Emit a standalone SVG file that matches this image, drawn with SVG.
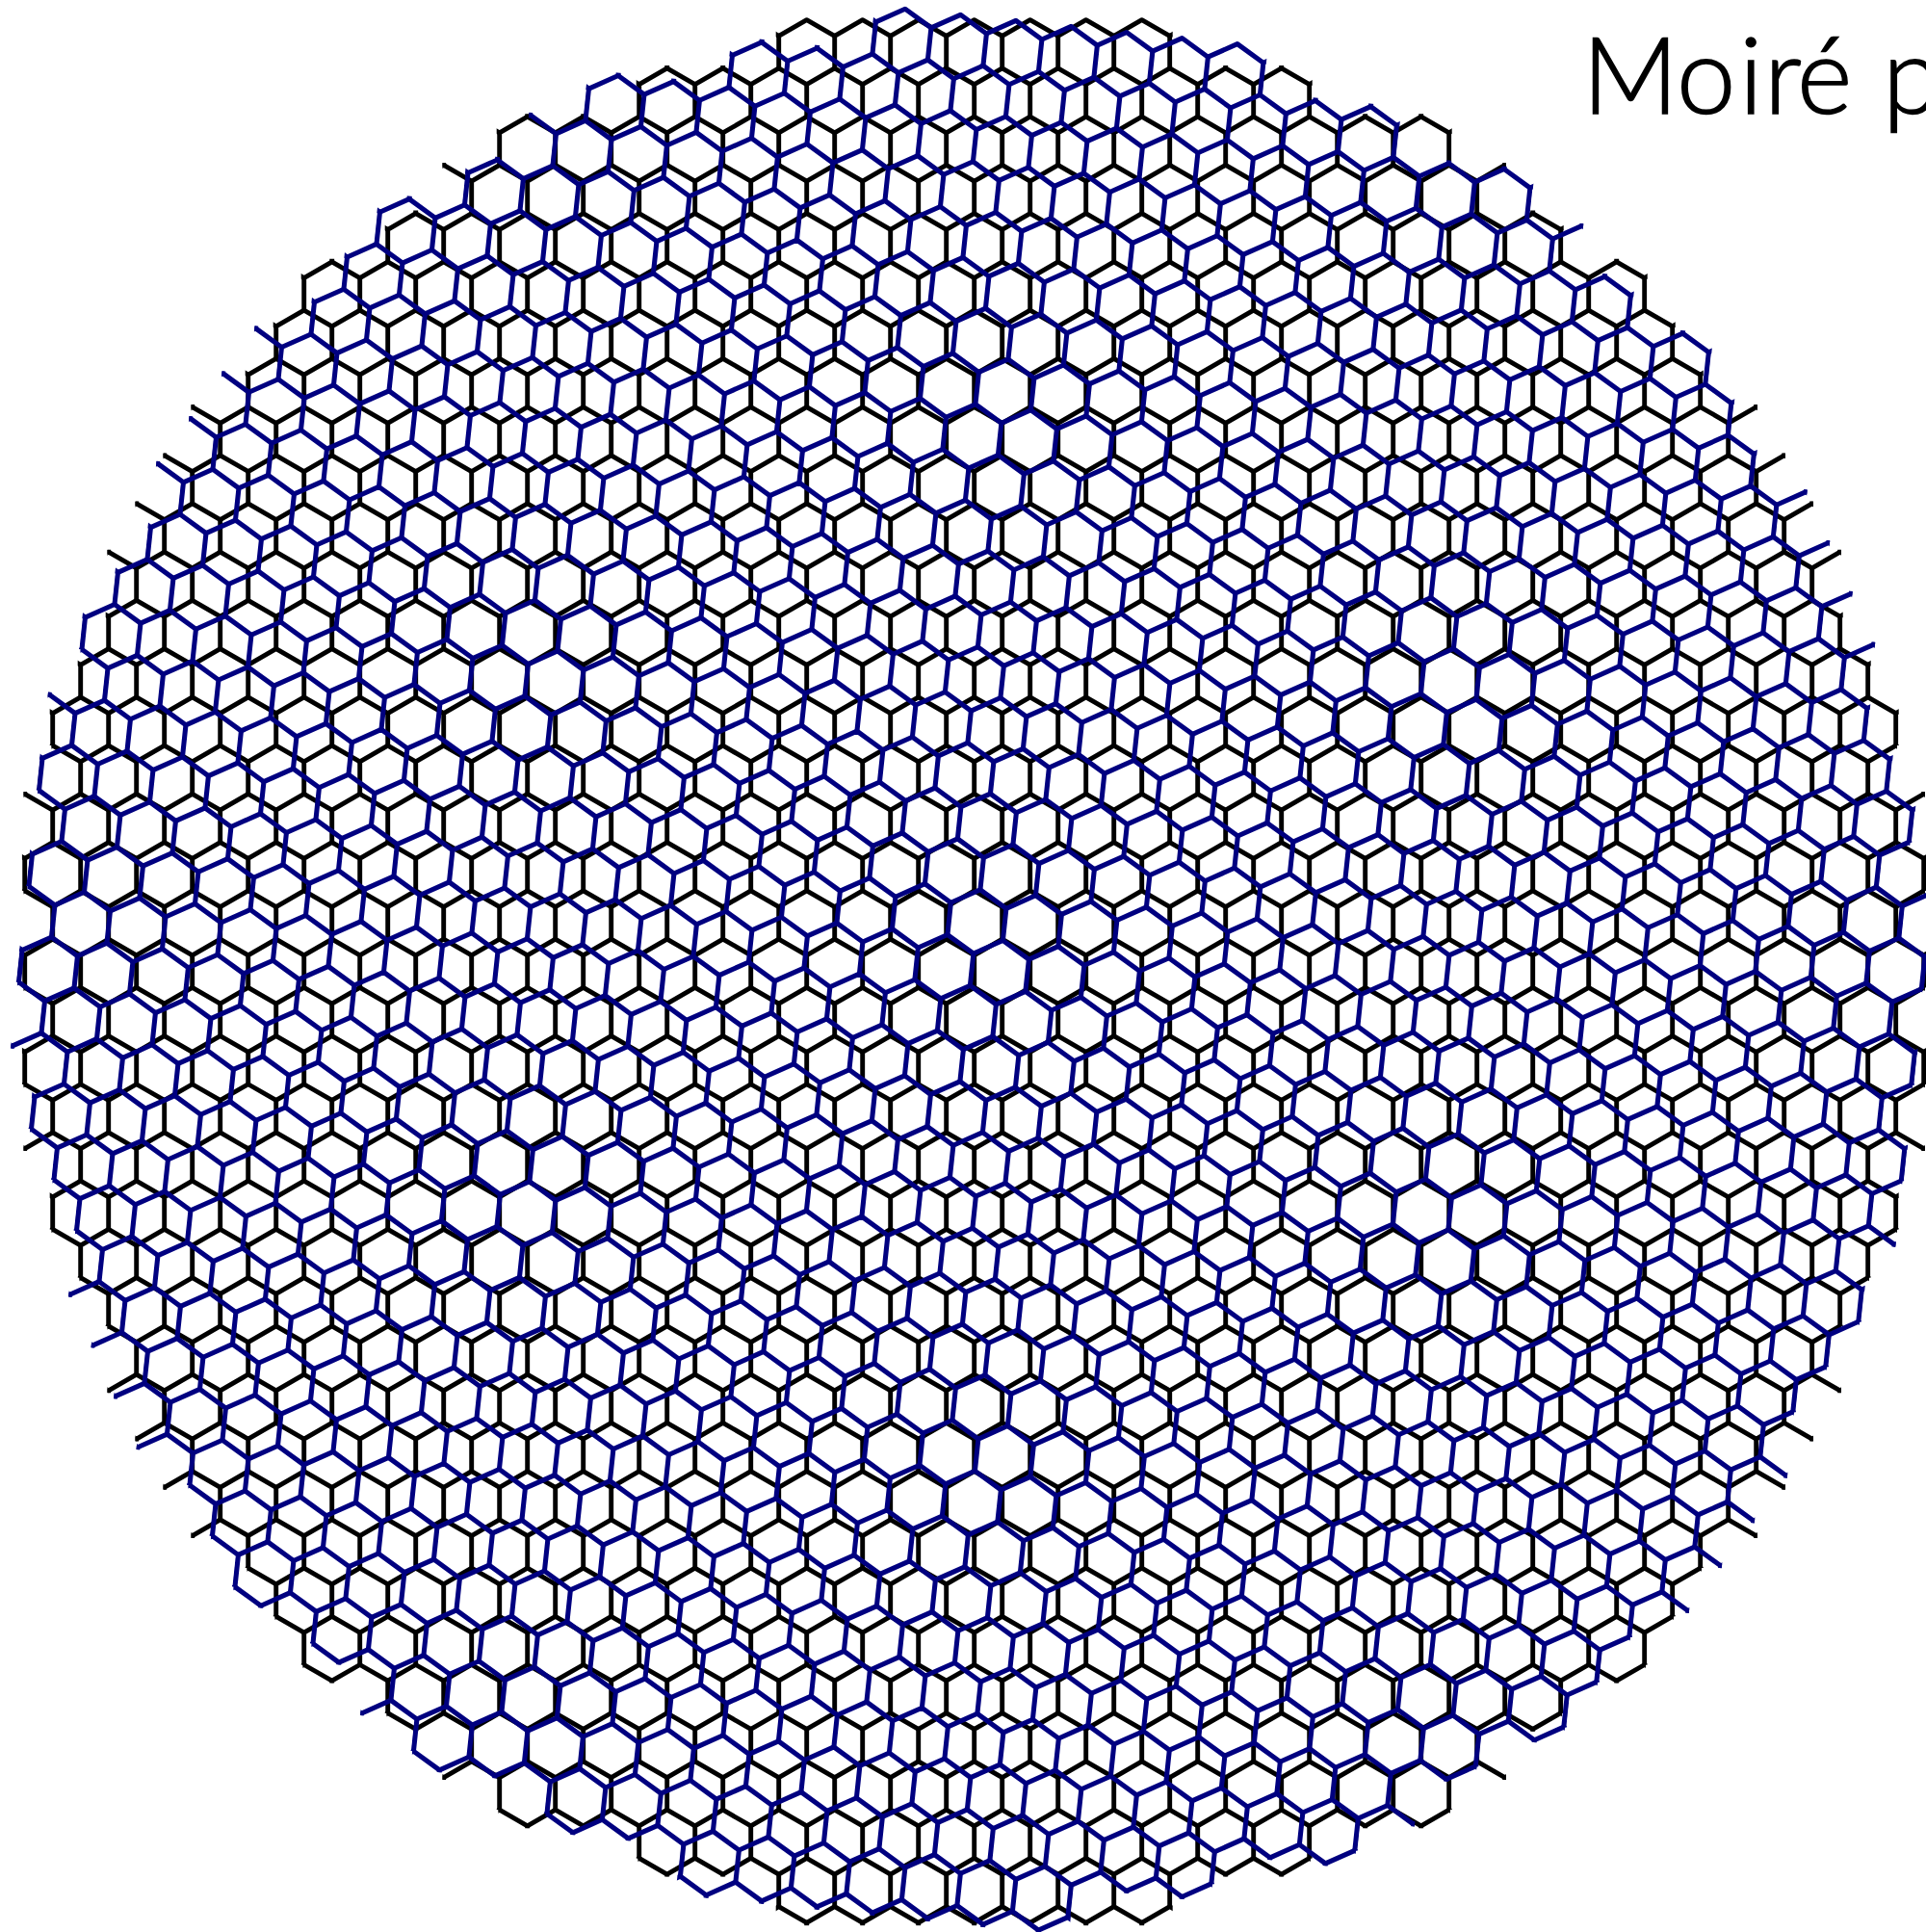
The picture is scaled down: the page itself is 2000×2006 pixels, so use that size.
<svg xmlns="http://www.w3.org/2000/svg" width="2000" height="2006" viewBox="0 0 2000 2006">
<style>
.lat{fill:none;stroke-linecap:round;stroke-linejoin:round}
.title{font-family:"Lato","Liberation Sans",sans-serif;font-size:110px;font-weight:300;fill:#000;stroke:#000;stroke-width:1.5px}
</style>
<defs>
<path id="c1" d="M0 16.743L29 0L58 16.743M0 16.743V50.229"/>
<g id="c2"><use href="#c1"/><use href="#c1" x="58"/></g>
<g id="c4"><use href="#c2"/><use href="#c2" x="116"/></g>
<g id="c8"><use href="#c4"/><use href="#c4" x="232"/></g>
<g id="c16"><use href="#c8"/><use href="#c8" x="464"/></g>
<g id="r"><use href="#c16"/><use href="#c16" x="928"/><use href="#c8" x="1856"/></g>
<g id="p1"><use href="#r"/><use href="#r" x="29" y="50.2295"/></g>
<g id="p2"><use href="#p1"/><use href="#p1" y="100.459"/></g>
<g id="p4"><use href="#p2"/><use href="#p2" y="200.918"/></g>
<g id="p8"><use href="#p4"/><use href="#p4" y="401.836"/></g>
<g id="p16"><use href="#p8"/><use href="#p8" y="803.672"/></g>
<clipPath id="disc"><path d="M-206-3h412v53.2h-412zM-351 47.2h702v53.2h-702zM-496 97.5h992v53.2h-992zM-552.2 148.3h1104.4v21.5h-1104.4zM-525 167.4h1050v33.5h-1050zM-612 197.9h1224v53.2h-1224zM-699 248.1h1398v53.2h-1398zM-728 298.4h1456v53.2h-1456zM-757 348.6h1514v53.2h-1514zM-813.2 399.4h1626.4v21.5h-1626.4zM-786 418.5h1572v33.5h-1572zM-842.2 449.7h1684.4v21.5h-1684.4zM-815 468.8h1630v33.5h-1630zM-871.2 499.9h1742.4v21.5h-1742.4zM-844 519h1688v33.5h-1688zM-900.2 550.1h1800.4v21.5h-1800.4zM-873 569.2h1746v33.5h-1746zM-902 599.7h1804v53.2h-1804zM-931 650h1862v53.2h-1862zM-960 700.2h1920v53.2h-1920zM-958.2 751h1916.4v21.5h-1916.4zM-931 770.1h1862v33.5h-1862zM-987.2 801.3h1974.4v21.5h-1974.4zM-960 820.4h1920v33.5h-1920zM-989 850.9h1978v53.2h-1978zM-987.2 901.7h1974.4v21.5h-1974.4zM-960 920.8h1920v33.5h-1920zM-989 951.4h1978v53.2h-1978zM-987.2 1002.2h1974.4v21.5h-1974.4zM-960 1021.3h1920v33.5h-1920zM-989 1051.8h1978v53.2h-1978zM-987.2 1102.6h1974.4v21.5h-1974.4zM-960 1121.7h1920v33.5h-1920zM-987.2 1152.9h1974.4v21.5h-1974.4zM-931 1172h1862v33.5h-1862zM-960 1202.5h1920v53.2h-1920zM-958.2 1253.3h1916.4v21.5h-1916.4zM-931 1272.4h1862v33.5h-1862zM-929.2 1303.6h1858.4v21.5h-1858.4zM-902 1322.7h1804v33.5h-1804zM-900.2 1353.8h1800.4v21.5h-1800.4zM-873 1372.9h1746v33.5h-1746zM-900.2 1404h1800.4v21.5h-1800.4zM-844 1423.1h1688v33.5h-1688zM-871.2 1454.2h1742.4v21.5h-1742.4zM-815 1473.3h1630v33.5h-1630zM-842.2 1504.5h1684.4v21.5h-1684.4zM-786 1523.6h1572v33.5h-1572zM-813.2 1554.7h1626.4v21.5h-1626.4zM-757 1573.8h1514v33.5h-1514zM-755.2 1604.9h1510.4v21.5h-1510.4zM-728 1624h1456v33.5h-1456zM-726.2 1655.2h1452.4v21.5h-1452.4zM-699 1674.3h1398v33.5h-1398zM-697.2 1705.4h1394.4v21.5h-1394.4zM-612 1724.5h1224v33.5h-1224zM-610.2 1755.6h1220.4v21.5h-1220.4zM-525 1774.7h1050v33.5h-1050zM-552.2 1805.8h1104.4v21.5h-1104.4zM-496 1824.9h992v33.5h-992zM-494.2 1856.1h988.4v21.5h-988.4zM-351 1875.2h702v33.5h-702zM-349.2 1906.3h698.4v21.5h-698.4zM-206 1925.4h412v33.5h-412zM-206 1955.9h412v22.7h-412z"/></clipPath>
<g id="flake" clip-path="url(#disc)"><use href="#p16" x="-1073"/><use href="#p4" x="-1073" y="1607.344"/></g>
</defs>
<rect width="2000" height="2006" fill="#fff"/>
<g id="black-lattice" class="lat" stroke="#000" stroke-width="4.9" transform="translate(1011.7 20.7)"><use href="#flake"/></g>
<g id="blue-lattice" class="lat" stroke="#000080" stroke-width="5.1" transform="translate(1009.15 1006.65) rotate(6.02) scale(.9968) translate(0 -987.8)"><use href="#flake"/></g>
<text class="title" x="1643 1741 1806 1832 1866 1930 1955" y="117.5">Moiré p</text>
</svg>
